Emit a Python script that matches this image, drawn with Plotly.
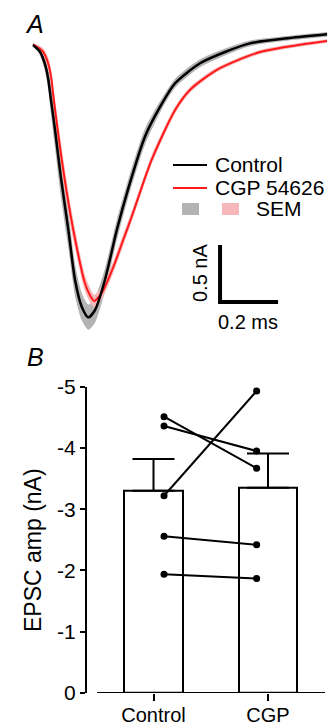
import plotly.graph_objects as go

# ---------------- DATA ----------------
# Panel A: averaged EPSC traces (time in ms, current in nA)
t_control = [0.000, 0.023, 0.040, 0.052, 0.061, 0.076, 0.096, 0.122, 0.145, 0.168,
             0.191, 0.214, 0.248, 0.289, 0.329, 0.386, 0.438, 0.490, 0.576, 0.662,
             0.748, 0.886, 1.014]
i_control = [-0.175, -0.231, -0.333, -0.465, -0.640, -0.921, -1.333, -1.798, -2.237, -2.471,
             -2.564, -2.500, -2.237, -1.798, -1.430, -0.980, -0.719, -0.511, -0.336, -0.237,
             -0.161, -0.114, -0.082]
sem_control = [0.010, 0.030, 0.060, 0.090, 0.120, 0.160, 0.170, 0.160, 0.140, 0.120,
               0.110, 0.110, 0.100, 0.090, 0.080, 0.070, 0.050, 0.040, 0.035, 0.030,
               0.025, 0.020, 0.020]

t_cgp = [0.000, 0.034, 0.052, 0.063, 0.071, 0.108, 0.139, 0.179, 0.202, 0.211,
         0.237, 0.277, 0.311, 0.340, 0.409, 0.490, 0.541, 0.633, 0.783, 1.014]
i_cgp = [-0.170, -0.231, -0.333, -0.465, -0.640, -1.333, -1.798, -2.263, -2.395, -2.421,
         -2.351, -2.123, -1.886, -1.684, -1.184, -0.746, -0.570, -0.395, -0.237, -0.140]
sem_cgp = [0.010, 0.030, 0.050, 0.070, 0.080, 0.100, 0.090, 0.070, 0.060, 0.055,
           0.055, 0.050, 0.050, 0.045, 0.040, 0.030, 0.025, 0.020, 0.018, 0.015]

scale_time_ms = 0.2
scale_current_na = 0.5

# Panel B: EPSC amplitudes (nA)
categories = ["Control", "CGP"]
mean_amp = [-3.30, -3.35]
sem_amp = [0.52, 0.56]
control_cells = [-4.51, -4.36, -3.22, -2.56, -1.94]
cgp_cells = [-3.67, -3.95, -4.93, -2.42, -1.87]
y_tick_values = [0, -1, -2, -3, -4, -5]
y_tick_labels = ["0", "-1", "-2", "-3", "-4", "-5"]

# ---------------- FIGURE ----------------
W, H = 328, 726
FONT = "Liberation Sans, Arial, Helvetica, sans-serif"
SMOOTH = 0.7


def px(x):
    return x / W


def py(y):
    return 1 - y / H


fig = go.Figure()

GRAY_BAND = "#b3b3b3"
PINK_BAND = "#f6b7ba"

# SEM bands
fig.add_trace(go.Scatter(x=t_control, y=[v + s for v, s in zip(i_control, sem_control)],
                         mode="lines", line=dict(width=0, shape="spline", smoothing=SMOOTH, color=GRAY_BAND),
                         hoverinfo="skip", showlegend=False, xaxis="x", yaxis="y"))
fig.add_trace(go.Scatter(x=t_control, y=[v - s for v, s in zip(i_control, sem_control)],
                         mode="lines", line=dict(width=0, shape="spline", smoothing=SMOOTH, color=GRAY_BAND),
                         fill="tonexty", fillcolor=GRAY_BAND,
                         hoverinfo="skip", showlegend=False, xaxis="x", yaxis="y"))
fig.add_trace(go.Scatter(x=t_cgp, y=[v + s for v, s in zip(i_cgp, sem_cgp)],
                         mode="lines", line=dict(width=0, shape="spline", smoothing=SMOOTH, color=PINK_BAND),
                         hoverinfo="skip", showlegend=False, xaxis="x", yaxis="y"))
fig.add_trace(go.Scatter(x=t_cgp, y=[v - s for v, s in zip(i_cgp, sem_cgp)],
                         mode="lines", line=dict(width=0, shape="spline", smoothing=SMOOTH, color=PINK_BAND),
                         fill="tonexty", fillcolor=PINK_BAND,
                         hoverinfo="skip", showlegend=False, xaxis="x", yaxis="y"))
# mean traces
fig.add_trace(go.Scatter(x=t_cgp, y=i_cgp, mode="lines",
                         line=dict(color="#ff1a1a", width=2, shape="spline", smoothing=SMOOTH),
                         showlegend=False, xaxis="x", yaxis="y"))
fig.add_trace(go.Scatter(x=t_control, y=i_control, mode="lines",
                         line=dict(color="#000000", width=2.5, shape="spline", smoothing=SMOOTH),
                         showlegend=False, xaxis="x", yaxis="y"))

# scale bar (data coordinates of panel A)
sb_t0, sb_i0 = 0.645, -2.43
fig.add_trace(go.Scatter(x=[sb_t0, sb_t0, sb_t0 + scale_time_ms],
                         y=[sb_i0 + scale_current_na, sb_i0, sb_i0],
                         mode="lines", line=dict(color="black", width=4),
                         hoverinfo="skip", showlegend=False, xaxis="x", yaxis="y"))

# Panel B bars
fig.add_trace(go.Bar(x=[0, 1], y=mean_amp, width=0.507,
                     marker=dict(color="white", line=dict(color="black", width=2)),
                     error_y=dict(type="data", symmetric=False, array=[0, 0],
                                  arrayminus=sem_amp, color="black", thickness=2, width=21),
                     showlegend=False, xaxis="x2", yaxis="y2"))
# paired cells
for c, g in zip(control_cells, cgp_cells):
    fig.add_trace(go.Scatter(x=[0.092, 0.901], y=[c, g], mode="lines+markers",
                             line=dict(color="black", width=2),
                             marker=dict(color="black", size=7),
                             showlegend=False, xaxis="x2", yaxis="y2"))

x2_left = (87 - 153.5) / 114.5
x2_right = (328 - 153.5) / 114.5

fig.update_layout(
    template="none",
    width=W, height=H,
    margin=dict(l=0, r=0, t=0, b=0, autoexpand=False),
    paper_bgcolor="white", plot_bgcolor="white",
    font=dict(family=FONT, color="black", size=20),
    xaxis=dict(domain=[0, 1], range=[-33 / 290, (328 - 33) / 290], visible=False,
               automargin=False),
    yaxis=dict(domain=[py(340), 1], range=[-(340 - 25) / 114, 25 / 114], visible=False,
               automargin=False),
    xaxis2=dict(domain=[px(87), 1], range=[x2_left, x2_right], anchor="y2",
                automargin=False,
                showline=False, showgrid=False, zeroline=False,
                tickmode="array", tickvals=[0, 1], ticktext=categories,
                ticks="outside", ticklen=7, tickwidth=2, tickcolor="black",
                ticklabelstandoff=-3,
                tickfont=dict(size=20, family=FONT, color="black")),
    yaxis2=dict(domain=[py(693), py(386.7)], range=[0, -5], anchor="x2",
                automargin=False,
                showline=True, linewidth=2, linecolor="black",
                showgrid=False, zeroline=False,
                tickmode="array", tickvals=y_tick_values, ticktext=y_tick_labels,
                ticks="outside", ticklen=5, tickwidth=2, tickcolor="black",
                tickfont=dict(size=21, family=FONT, color="black")),
    bargap=0,
)

# x-axis line for panel B (offset from y axis)
fig.add_shape(type="line", xref="x2", yref="y2",
              x0=(97 - 153.5) / 114.5, x1=(325 - 153.5) / 114.5, y0=0, y1=0,
              line=dict(color="black", width=2))

# legend (panel A)
fig.add_shape(type="line", xref="paper", yref="paper", x0=px(173), x1=px(207),
              y0=py(165), y1=py(165), line=dict(color="black", width=2))
fig.add_shape(type="line", xref="paper", yref="paper", x0=px(173), x1=px(207),
              y0=py(188), y1=py(188), line=dict(color="#ff1a1a", width=2))
fig.add_shape(type="rect", xref="paper", yref="paper", x0=px(182), x1=px(199),
              y0=py(215), y1=py(203), line=dict(width=0), fillcolor=GRAY_BAND)
fig.add_shape(type="rect", xref="paper", yref="paper", x0=px(222), x1=px(239),
              y0=py(215), y1=py(203), line=dict(width=0), fillcolor=PINK_BAND)

def label(text, x, y, size=21, xanchor="left", angle=0, yanchor="middle"):
    fig.add_annotation(text=text, x=px(x), y=py(y), xref="paper", yref="paper",
                       showarrow=False, xanchor=xanchor, yanchor=yanchor,
                       textangle=angle, font=dict(size=size, family=FONT, color="black"))

label("Control", 213, 164)
label("CGP 54626", 213, 187)
label("SEM", 254, 209)
label("0.5 nA", 200, 273, size=20, xanchor="center", angle=-90)
label("0.2 ms", 248, 322, size=20, xanchor="center")
label("<i>A</i>", 34, 24, size=25, xanchor="center")
label("<i>B</i>", 35, 357, size=25, xanchor="center")
label("EPSC amp (nA)", 33, 550, size=23, xanchor="center", angle=-90)

fig.write_html("out.html",
               config={"displayModeBar": False},
               post_script="document.body.style.margin='0';document.body.style.overflow='hidden';")
